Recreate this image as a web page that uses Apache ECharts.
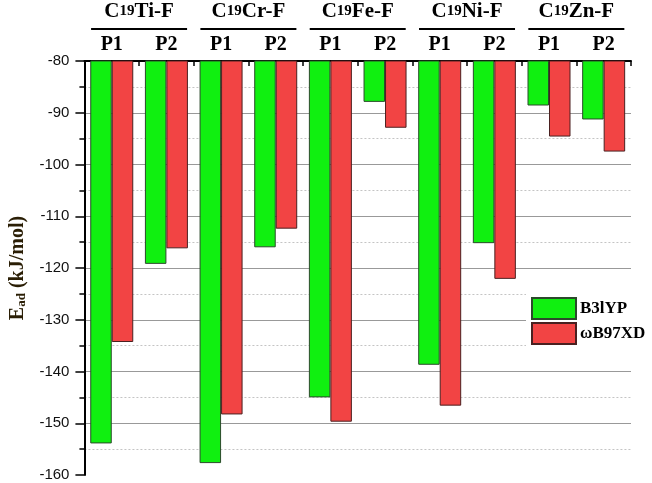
<!DOCTYPE html>
<html>
<head>
<meta charset="utf-8">
<script src="https://cdn.jsdelivr.net/npm/echarts@6/dist/echarts.min.js"></script>
<style>html,body{margin:0;padding:0;background:#fff;}#c{width:652px;height:483px;}</style>
</head>
<body>
<div id="c"></div>
<script>
var groups = ['Ti', 'Cr', 'Fe', 'Ni', 'Zn'];
var positions = ['P1', 'P2'];
var categories = ['Ti-P1','Ti-P2','Cr-P1','Cr-P2','Fe-P1','Fe-P2','Ni-P1','Ni-P2','Zn-P1','Zn-P2'];
var b3lyp = [-153.9, -119.2, -157.7, -116.0, -145.0, -87.9, -138.7, -115.2, -88.6, -91.3];
var wb97xd = [-134.3, -116.2, -148.3, -112.4, -149.7, -92.9, -146.6, -122.1, -94.6, -97.5];
var yTicks = [-160, -150, -140, -130, -120, -110, -100, -90, -80];

var serif = '"Liberation Serif", "Times New Roman", serif';
var chart = echarts.init(document.getElementById('c'));
var option = {
  animation: false,
  backgroundColor: '#fff',
  grid: {left: 77, right: 21, top: 61, bottom: 8, containLabel: false},
  legend: {
    orient: 'vertical', left: 526, top: 292, padding: [5, 5, 4, 5],
    backgroundColor: '#fff', itemWidth: 44, itemHeight: 21, itemGap: 2,
    icon: 'rect',
    textStyle: {fontFamily: serif, fontWeight: 'bold', fontSize: 17, color: '#000', padding: [0,0,0,-1]},
    data: ['B3lYP', 'ωB97XD']
  },
  xAxis: {
    type: 'category', position: 'top', data: categories,
    axisLine: {lineStyle: {color: '#000', width: 2}},
    axisTick: {show: true, inside: true, length: 5, interval: 0, lineStyle: {color: '#000', width: 1.5}},
    axisLabel: {interval: 0, margin: 6, fontFamily: serif, fontWeight: 'bold', fontSize: 20, color: '#000',
      formatter: function (v) { return v.split('-')[1]; }},
    splitLine: {show: false}
  },
  yAxis: {
    type: 'value', min: -160, max: -80, interval: 10,
    name: '{e|E}{s|ad}{e| (kJ/mol)}', nameLocation: 'middle', nameGap: 52,
    nameTextStyle: {
      rich: {
        e: {fontFamily: serif, fontWeight: 'bold', fontSize: 20, color: '#2a1e05'},
        s: {fontFamily: serif, fontWeight: 'bold', fontSize: 13, color: '#2a1e05', padding: [8, 0, 0, 0]}
      }
    },
    axisLine: {show: true, lineStyle: {color: '#000', width: 2}},
    axisTick: {show: true, inside: false, length: 9, lineStyle: {color: '#000', width: 1.5}},
    minorTick: {show: true, splitNumber: 2, length: 5, lineStyle: {color: '#000', width: 1.5}},
    axisLabel: {margin: 15, fontFamily: 'Arial, "Liberation Sans", sans-serif', fontSize: 15, color: '#111',
      formatter: function (v) { return yTicks.indexOf(v) >= 0 ? String(v) : ''; }},
    splitLine: {show: true, showMinLine: false, showMaxLine: false, lineStyle: {color: '#999', width: 1.2}},
    minorSplitLine: {show: true, lineStyle: {color: '#c4c4c4', width: 1, type: [2, 2]}}
  },
  series: [
    {name: 'B3lYP', type: 'bar', data: b3lyp, barWidth: 21.5, barGap: '0%', clip: true,
      itemStyle: {color: '#10f010', borderColor: '#2b4a2b', borderWidth: 1}},
    {name: 'ωB97XD', type: 'bar', data: wb97xd, barWidth: 21.5, barGap: '0%', clip: true,
      itemStyle: {color: '#f24444', borderColor: '#4a2020', borderWidth: 1}}
  ]
};
chart.setOption(option);

var graphics = [];
groups.forEach(function (g, i) {
  var x1 = chart.convertToPixel({xAxisIndex: 0}, categories[2 * i]);
  var x2 = chart.convertToPixel({xAxisIndex: 0}, categories[2 * i + 1]);
  var cx = (x1 + x2) / 2;
  graphics.push({type: 'line', shape: {x1: cx - 48, y1: 29, x2: cx + 48, y2: 29},
    style: {stroke: '#000', lineWidth: 2}});
  graphics.push({type: 'text', x: cx, y: 22,
    style: {text: '{n|C}{s|19}{n|' + g + '-F}', align: 'center', verticalAlign: 'bottom',
      rich: {
        n: {fontFamily: serif, fontWeight: 'bold', fontSize: 21, color: '#000'},
        s: {fontFamily: serif, fontWeight: 'bold', fontSize: 15, color: '#000'}
      }}});
});
chart.setOption({graphic: graphics});
</script>
</body>
</html>
